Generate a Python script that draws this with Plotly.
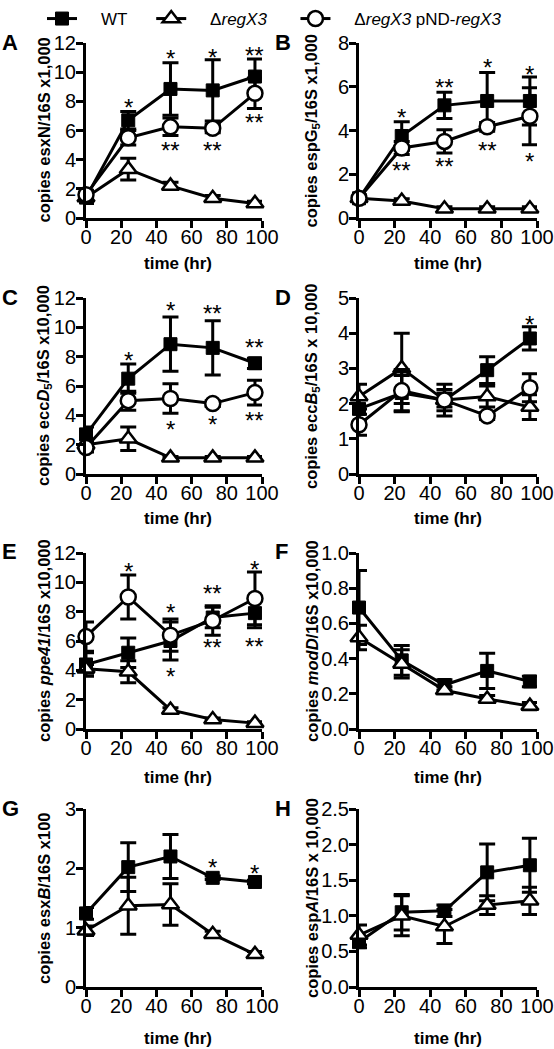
import plotly.graph_objects as go

W, H = 554, 1049

time_hr = [0, 24, 48, 72, 96]

# ---------------- data ----------------
A_wt = [1.4, 6.7, 8.85, 8.75, 9.7]
A_wt_err = [0.4, 0.6, 1.8, 2.1, 1.2]
A_ko = [1.4, 3.35, 2.2, 1.35, 1.0]
A_ko_err = [0.3, 0.75, 0.25, 0.2, 0.15]
A_comp = [1.6, 5.5, 6.25, 6.15, 8.55]
A_comp_err = [0.3, 0.5, 0.6, 0.3, 1.05]
A_star_x = [24, 48, 72, 96, 48, 72, 96]
A_star_y = [7.95, 11.25, 11.35, 11.5, 5.0, 5.0, 6.9]
A_star_t = ["*", "*", "*", "**", "**", "**", "**"]

B_wt = [0.9, 3.75, 5.15, 5.35, 5.35]
B_wt_err = [0.15, 0.65, 0.6, 1.3, 1.1]
B_ko = [0.9, 0.78, 0.42, 0.42, 0.42]
B_ko_err = [0.1, 0.1, 0.1, 0.1, 0.1]
B_comp = [0.9, 3.2, 3.5, 4.17, 4.65]
B_comp_err = [0.15, 0.3, 0.53, 0.2, 1.3]
B_star_x = [24, 24, 48, 48, 72, 72, 96, 96]
B_star_y = [4.8, 2.42, 6.2, 2.58, 7.1, 3.33, 6.77, 2.8]
B_star_t = ["*", "**", "**", "**", "*", "**", "*", "*"]

C_wt = [2.7, 6.5, 8.85, 8.6, 7.55]
C_wt_err = [0.5, 1.0, 1.85, 1.85, 0.35]
C_ko = [2.0, 2.4, 1.1, 1.1, 1.1]
C_ko_err = [0.3, 0.8, 0.1, 0.1, 0.1]
C_comp = [1.8, 5.0, 5.15, 4.8, 5.55]
C_comp_err = [0.3, 0.65, 1.0, 0.2, 0.85]
C_star_x = [24, 48, 72, 96, 48, 72, 96]
C_star_y = [8.1, 11.5, 11.3, 9.0, 3.35, 3.7, 4.0]
C_star_t = ["*", "*", "**", "**", "*", "*", "**"]

D_wt = [1.85, 2.3, 2.1, 2.95, 3.85]
D_wt_err = [0.3, 0.5, 0.45, 0.38, 0.33]
D_ko = [2.2, 3.0, 2.1, 2.2, 1.9]
D_ko_err = [0.35, 1.0, 0.2, 0.3, 0.35]
D_comp = [1.4, 2.37, 2.1, 1.65, 2.45]
D_comp_err = [0.3, 0.6, 0.3, 0.1, 0.4]
D_star_x = [96]
D_star_y = [4.4]
D_star_t = ["*"]

E_wt = [4.4, 5.2, 6.0, 7.6, 7.9]
E_wt_err = [0.8, 1.0, 1.3, 0.7, 1.0]
E_ko = [4.1, 3.9, 1.3, 0.65, 0.4]
E_ko_err = [0.3, 0.75, 0.15, 0.1, 0.1]
E_comp = [6.3, 9.0, 6.4, 7.4, 8.9]
E_comp_err = [1.0, 1.5, 1.1, 1.0, 1.8]
E_star_x = [24, 48, 48, 72, 72, 96, 96]
E_star_y = [11.1, 8.3, 3.9, 9.6, 5.9, 11.25, 6.0]
E_star_t = ["*", "*", "*", "**", "**", "*", "**"]

F_wt = [0.69, 0.39, 0.25, 0.33, 0.27]
F_wt_err = [0.21, 0.085, 0.03, 0.1, 0.03]
F_ko = [0.52, 0.37, 0.22, 0.17, 0.13]
F_ko_err = [0.07, 0.08, 0.02, 0.02, 0.02]

G_wt = [1.24, 2.02, 2.2, 1.84, 1.77]
G_wt_err = [0.1, 0.41, 0.37, 0.03, 0.03]
G_ko = [0.95, 1.37, 1.39, 0.89, 0.55]
G_ko_err = [0.08, 0.48, 0.35, 0.05, 0.05]
G_star_x = [72, 96]
G_star_y = [2.1, 2.0]
G_star_t = ["*", "*"]

H_wt = [0.63, 1.05, 1.07, 1.61, 1.71]
H_wt_err = [0.08, 0.25, 0.08, 0.4, 0.38]
H_ko = [0.73, 1.0, 0.85, 1.15, 1.21]
H_ko_err = [0.14, 0.28, 0.24, 0.13, 0.19]

# y-axis settings
panel_letters = ["A", "B", "C", "D", "E", "F", "G", "H"]
y_max = [12, 8, 12, 5, 12, 1.0, 3, 2.5]
y_step = [2, 2, 2, 1, 2, 0.2, 1, 0.5]
y_fmt = ["", "", "", "", "", ".1f", "", ".1f"]
y_titles = [
    "copies esxN/16S x1,000",
    "copies espG<sub>5</sub>/16S x1,000",
    "copies ecc<i>D</i><sub>5</sub>/16S x10,000",
    "copies ecc<i>B</i><sub>5</sub>/16S x 10,000",
    "copies <i>ppe41</i>/16S x10,000",
    "copies <i>modD</i>/16S x10,000",
    "copies esx<i>B</i>/16S x100",
    "copies esp<i>A</i>/16S x 10,000",
]
x_title = "time (hr)"
x_ticks = [0, 20, 40, 60, 80, 100]

NB = "\u00a0"
series_names = [NB * 4 + "WT" + NB * 4,
                NB * 4 + "Δ<i>regX3</i>" + NB * 5,
                NB * 4 + "Δ<i>regX3</i> pND-<i>regX3</i>"]

panels = [
    [(A_wt, A_wt_err), (A_ko, A_ko_err), (A_comp, A_comp_err)],
    [(B_wt, B_wt_err), (B_ko, B_ko_err), (B_comp, B_comp_err)],
    [(C_wt, C_wt_err), (C_ko, C_ko_err), (C_comp, C_comp_err)],
    [(D_wt, D_wt_err), (D_ko, D_ko_err), (D_comp, D_comp_err)],
    [(E_wt, E_wt_err), (E_ko, E_ko_err), (E_comp, E_comp_err)],
    [(F_wt, F_wt_err), (F_ko, F_ko_err), None],
    [(G_wt, G_wt_err), (G_ko, G_ko_err), None],
    [(H_wt, H_wt_err), (H_ko, H_ko_err), None],
]
stars = [
    (A_star_x, A_star_y, A_star_t),
    (B_star_x, B_star_y, B_star_t),
    (C_star_x, C_star_y, C_star_t),
    (D_star_x, D_star_y, D_star_t),
    (E_star_x, E_star_y, E_star_t),
    None,
    (G_star_x, G_star_y, G_star_t),
    None,
]

# ---------------- layout geometry (pixels) ----------------
col_x = [(86, 262), (359, 537)]
row_y = [(43, 218), (298, 474), (553, 729), (809, 987)]
xtitle_off = [45, 44, 48, 51]
ytitle_x = [44, 312]
letter_x = [0, 273]
xtitle_cx = [178, 448]

FONT = "Liberation Sans, Arial, sans-serif"

marker_styles = [
    dict(symbol="square", size=13, color="black", line=dict(color="black", width=1)),
    dict(symbol="triangle-up", size=15, color="white", line=dict(color="black", width=2.5)),
    dict(symbol="circle", size=15, color="white", line=dict(color="black", width=2.5)),
]

fig = go.Figure()
layout = {}
annotations = []

for i in range(8):
    r, c = divmod(i, 2)
    xl, xr = col_x[c]
    yt, yb = row_y[r]
    ax = "" if i == 0 else str(i + 1)
    xname, yname = "x" + ax, "y" + ax
    layout["xaxis" + ax] = dict(
        domain=[xl / W, xr / W], anchor=yname, range=[0, 100],
        tickvals=x_ticks, ticks="outside", ticklen=7, tickwidth=3, tickcolor="black",
        showline=True, linecolor="black", linewidth=3, showgrid=False, zeroline=False,
        tickfont=dict(family=FONT, size=20, color="black"), ticklabeloverflow="allow",
        ticklabelstandoff=-8,
    )
    tv = []
    v = 0.0
    while v <= y_max[i] + 1e-9:
        tv.append(round(v, 3))
        v += y_step[i]
    layout["yaxis" + ax] = dict(
        domain=[1 - yb / H, 1 - yt / H], anchor=xname, range=[0, y_max[i]],
        tickvals=tv, tickformat=y_fmt[i], ticks="outside", ticklen=7, tickwidth=3, tickcolor="black",
        showline=True, linecolor="black", linewidth=3, showgrid=False, zeroline=False,
        tickfont=dict(family=FONT, size=20, color="black"), ticklabeloverflow="allow",
        ticklabelstandoff=-4,
    )
    # y title
    annotations.append(dict(
        xref="paper", yref="paper", x=ytitle_x[c] / W, y=1 - (yt + yb) / 2 / H,
        text="<b>" + y_titles[i] + "</b>", textangle=-90, showarrow=False,
        font=dict(family=FONT, size=16.5, color="black"), xanchor="center", yanchor="middle",
    ))
    # x title
    annotations.append(dict(
        xref="paper", yref="paper", x=xtitle_cx[c] / W, y=1 - (yb + xtitle_off[r]) / H,
        text="<b>" + x_title + "</b>", showarrow=False,
        font=dict(family=FONT, size=17, color="black"), xanchor="center", yanchor="middle",
    ))
    # panel letter
    annotations.append(dict(
        xref="paper", yref="paper", x=letter_x[c] / W, y=1 - (yt - 1) / H,
        text="<b>" + panel_letters[i] + "</b>", showarrow=False,
        font=dict(family=FONT, size=22, color="black"), xanchor="left", yanchor="middle",
    ))
    for k, s in enumerate(panels[i]):
        if s is None:
            continue
        yv, ev = s
        fig.add_trace(go.Scatter(
            x=time_hr, y=yv, xaxis=xname, yaxis=yname, mode="lines+markers",
            name=series_names[k], showlegend=(i == 0), legendrank=k,
            line=dict(color="black", width=3), marker=marker_styles[k],
            error_y=dict(type="data", array=ev, color="black", thickness=3, width=8),
            cliponaxis=False,
        ))
    if stars[i] is not None:
        sx, sy, st = stars[i]
        for xx, yy, tt in zip(sx, sy, st):
            annotations.append(dict(
                xref=xname, yref=yname, x=xx, y=yy, text=tt, showarrow=False,
                font=dict(family=FONT, size=24, color="black"), xanchor="center", yanchor="middle",
                yshift=-5,
            ))

fig.update_layout(
    width=W, height=H, margin=dict(l=0, r=0, t=0, b=0, autoexpand=False),
    paper_bgcolor="white", plot_bgcolor="white",
    font=dict(family=FONT, color="black"),
    legend=dict(orientation="h", xref="container", yref="container",
                x=42 / W, y=1 - 1 / H, xanchor="left", yanchor="top",
                font=dict(family=FONT, size=17, color="black"), bgcolor="rgba(0,0,0,0)"),
    annotations=annotations,
    **layout,
)

fig.write_html(
    "out.html",
    config={"displayModeBar": False},
    post_script="document.body.style.margin='0';document.body.style.padding='0';",
)
